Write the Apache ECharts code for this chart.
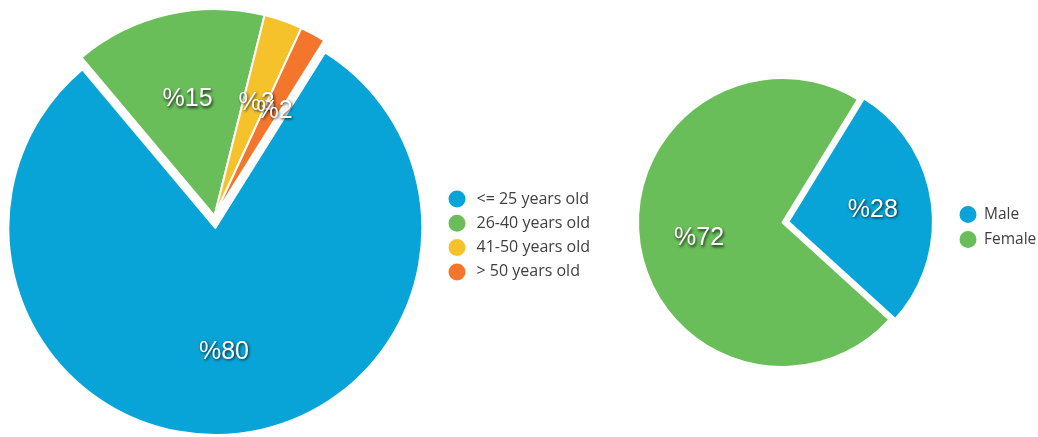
<!DOCTYPE html>
<html>
<head>
<meta charset="utf-8">
<script src="https://cdn.jsdelivr.net/npm/echarts@6/dist/echarts.min.js"></script>
<style>
html,body{margin:0;padding:0;background:#fff;}
#main{width:1038px;height:437px;}
</style>
</head>
<body>
<div id="main"></div>
<script>
// ---- data ----
const ageCategories = ['<= 25 years old', '26-40 years old', '41-50 years old', '> 50 years old'];
const ageValues = [80, 15, 3, 2];
const genderCategories = ['Male', 'Female'];
const genderValues = [28, 72];

// ---- styles ----
const ageColors = ['#08a4d7', '#6abe5a', '#f6c22c', '#f3762c'];
const genderColors = ['#08a4d7', '#6abe5a'];
const ageSelected = [true, false, false, false];
const genderSelected = [true, false];

function buildData(names, values, colors, selected, transparent) {
  return names.map((n, i) => ({
    name: n,
    value: values[i],
    selected: selected[i],
    itemStyle: transparent ? { color: 'rgba(0,0,0,0)', borderWidth: 0 } : { color: colors[i] }
  }));
}

const labelStyle = {
  show: true,
  position: 'inside',
  formatter: p => '%' + p.value,
  color: '#fff',
  fontSize: 25,
  fontFamily: 'Liberation Sans, Arial, sans-serif',
  offset: [1, 4],
  textShadowColor: 'rgba(0,0,0,0.8)',
  textShadowBlur: 3,
  textShadowOffsetX: 1,
  textShadowOffsetY: 1.5
};

function mainSeries(center, radius, start, offset, data) {
  return {
    type: 'pie',
    center: center,
    radius: radius,
    startAngle: start,
    clockwise: true,
    selectedMode: 'single',
    selectedOffset: offset,
    avoidLabelOverlap: false,
    silent: true,
    label: { show: false },
    labelLine: { show: false },
    itemStyle: { borderColor: '#fff', borderWidth: 2 },
    emphasis: { disabled: true },
    data: data
  };
}
function labelSeries(center, radius, start, offset, data) {
  return {
    type: 'pie',
    center: center,
    radius: radius,
    startAngle: start,
    clockwise: true,
    selectedMode: 'single',
    selectedOffset: offset,
    avoidLabelOverlap: false,
    minShowLabelAngle: 0,
    labelLayout: { hideOverlap: false },
    silent: true,
    z: 5,
    label: labelStyle,
    labelLine: { show: false },
    emphasis: { disabled: true },
    data: data
  };
}

const chart = echarts.init(document.getElementById('main'), null, { renderer: 'canvas' });
const legendText = { fontSize: 16, lineHeight: 19, color: '#3f3f3f', fontFamily: 'Open Sans, sans-serif', padding: [0, 0, 0, 5] };
const legendText2 = { fontSize: 15.5, lineHeight: 19, color: '#3f3f3f', fontFamily: 'Open Sans, sans-serif', padding: [0, 0, 0, 1.5] };

chart.setOption({
  animation: false,
  backgroundColor: '#fff',
  legend: [
    {
      orient: 'vertical', left: 441.5, top: 183.5,
      icon: 'circle', itemWidth: 19, itemHeight: 19, itemGap: 3.3,
      selectedMode: false,
      textStyle: legendText,
      data: ageCategories
    },
    {
      orient: 'vertical', left: 952.5, top: 199,
      icon: 'circle', itemWidth: 19, itemHeight: 19, itemGap: 4,
      selectedMode: false,
      textStyle: legendText2,
      data: genderCategories
    }
  ],
  series: [
    mainSeries([214.5, 216], [0, 207], 58, 12, buildData(ageCategories, ageValues, ageColors, ageSelected, false)),
    mainSeries([782.5, 222.5], [0, 144.5], 58.5, 6, buildData(genderCategories, genderValues, genderColors, genderSelected, false)),
    labelSeries([214.5, 216], [35, 207], 58, 12, buildData(ageCategories, ageValues, ageColors, ageSelected, true)),
    labelSeries([782.5, 222.5], [20, 144.5], 58.5, 6, buildData(genderCategories, genderValues, genderColors, genderSelected, true))
  ]
});
</script>
</body>
</html>
